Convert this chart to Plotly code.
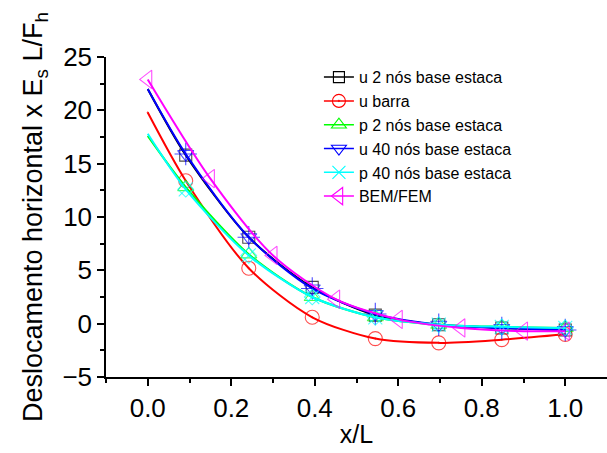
import plotly.graph_objects as go

# Nodal positions along the pile (x/L) for the numerical solutions
x_nos = [0.0, 0.091, 0.242, 0.394, 0.545, 0.697, 0.848, 1.0]
u_2_nos = [22.0, 15.8, 8.1, 3.4, 0.8, -0.1, -0.4, -0.6]
u_barra = [19.8, 13.4, 5.2, 0.6, -1.4, -1.8, -1.5, -1.0]
p_2_nos = [17.6, 12.8, 6.5, 2.5, 0.6, -0.1, -0.3, -0.4]
u_40_nos = [22.0, 15.9, 8.1, 3.3, 0.9, -0.1, -0.4, -0.6]
p_40_nos = [17.8, 12.6, 6.4, 2.5, 0.6, -0.1, -0.3, -0.4]

# Reference BEM/FEM solution
x_bem = [0.0, 0.15, 0.3, 0.45, 0.6, 0.75, 0.9, 1.0]
bem_fem = [22.9, 13.6, 6.4, 2.3, 0.4, -0.4, -0.7, -0.7]

FONT = "Arial, Liberation Sans, sans-serif"

fig = go.Figure()


def hidden_first(n, size):
    # no marker drawn at the pile head (x = 0)
    return [0] + [size] * (n - 1)


def add_series(x, y, name, color, symbol, size, first_marker=False, extra=None):
    sizes = [size] * len(x) if first_marker else hidden_first(len(x), size)
    fig.add_trace(go.Scatter(
        x=x, y=y, name=name, mode="lines+markers", showlegend=False,
        line=dict(color=color, width=2, shape="spline", smoothing=0.8),
        marker=dict(symbol=symbol, size=sizes, color=color,
                    line=dict(color=color, width=1.1)),
        legendgroup=name,
    ))
    if extra is not None:
        sym2, size2 = extra
        fig.add_trace(go.Scatter(
            x=x, y=y, mode="markers", showlegend=False, legendgroup=name,
            hoverinfo="skip",
            marker=dict(symbol=sym2, size=hidden_first(len(x), size2), color=color,
                        line=dict(color=color, width=1.1)),
        ))
    # legend entry with a constant marker size
    fig.add_trace(go.Scatter(
        x=[None], y=[None], name=name, mode="lines+markers", legendgroup=name,
        line=dict(color=color, width=1.5),
        marker=dict(symbol=symbol, size=size - 1, color=color,
                    line=dict(color=color, width=1.1)),
    ))


add_series(x_nos, u_2_nos, "u 2 nós base estaca", "black", "square-open", 12)
add_series(x_nos, u_barra, "u barra", "#FF0000", "circle-open-dot", 14)
add_series(x_nos, p_2_nos, "p 2 nós base estaca", "#00FF00", "triangle-up-open", 14)
add_series(x_nos, u_40_nos, "u 40 nós base estaca", "#0000FF", "triangle-down-open", 14,
           extra=("cross-thin-open", 16))
add_series(x_nos, p_40_nos, "p 40 nós base estaca", "#00FFFF", "x-thin-open", 14,
           extra=("diamond-open", 12))
add_series(x_bem, bem_fem, "BEM/FEM", "#FF00FF", "triangle-left-open", 16, first_marker=True)

axis_common = dict(
    showline=True, linecolor="black", linewidth=1.5, mirror=False,
    showgrid=False, zeroline=False,
    ticks="outside", ticklen=7, tickwidth=1.5, tickcolor="black",
    tickfont=dict(family=FONT, size=26, color="black"),
)

fig.update_layout(
    width=607, height=453,
    margin=dict(l=106, r=0, t=57, b=76),
    paper_bgcolor="white", plot_bgcolor="white",
    font=dict(family=FONT, color="black"),
    xaxis=dict(
        range=[-0.1, 1.1], tickmode="array",
        tickvals=[0.0, 0.2, 0.4, 0.6, 0.8, 1.0],
        ticktext=["0.0", "0.2", "0.4", "0.6", "0.8", "1.0"],
        minor=dict(tickmode="array", tickvals=[-0.1, 0.1, 0.3, 0.5, 0.7, 0.9],
                   ticks="outside", ticklen=4, tickcolor="black", tickwidth=1.5),
        title=dict(text="x/L", font=dict(family=FONT, size=25), standoff=4),
        **axis_common,
    ),
    yaxis=dict(
        range=[-5, 25], tickmode="array",
        tickvals=[-5, 0, 5, 10, 15, 20, 25],
        minor=dict(tickmode="array", tickvals=[-2.5, 2.5, 7.5, 12.5, 17.5, 22.5],
                   ticks="outside", ticklen=4, tickcolor="black", tickwidth=1.5),
        title=dict(text="Deslocamento horizontal x E<sub>s</sub> L/F<sub>h</sub>",
                   font=dict(family=FONT, size=27), standoff=12),
        **axis_common,
    ),
    legend=dict(
        x=0.425, y=0.99, xanchor="left", yanchor="top",
        bgcolor="rgba(0,0,0,0)", borderwidth=0,
        font=dict(family=FONT, size=16, color="black"),
        itemsizing="trace", tracegroupgap=0,
    ),
    showlegend=True,
)

fig.write_html("out.html")
